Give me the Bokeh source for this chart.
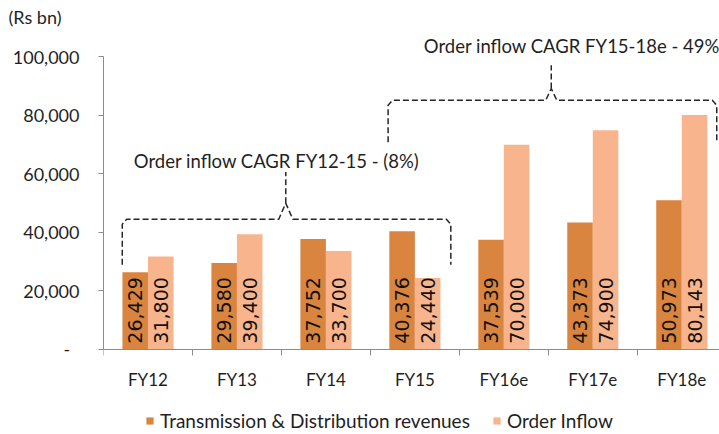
import numpy as np
from bokeh.plotting import figure
from bokeh.models import (Range1d, FixedTicker, CustomJSTickFormatter,
                          Legend, LegendItem, ColumnDataSource)
from bokeh.core.properties import value
from bokeh.embed import file_html
from bokeh.resources import INLINE

# ---- data ----
categories = ["FY12", "FY13", "FY14", "FY15", "FY16e", "FY17e", "FY18e"]
td_revenues = [26429, 29580, 37752, 40376, 37539, 43373, 50973]
order_inflow = [31800, 39400, 33700, 24440, 70000, 74900, 80143]
y_ticks = [0, 20000, 40000, 60000, 80000, 100000]
series_names = ["Transmission & Distribution revenues", "Order Inflow"]
unit_label = "(Rs bn)"
cagr_texts = ["Order inflow CAGR FY12-15 - (8%)", "Order inflow CAGR FY15-18e - 49%"]

# ---- style ----
DARK = "#D98540"
LIGHT = "#F8B48C"
AXIS = "#8C8C8C"
TXT = "#1F1F1F"
BAR_W = 0.287
FONT = "Lato"

idx = np.arange(len(categories))
src_td = ColumnDataSource(dict(x=idx + 0.5 - BAR_W / 2, top=td_revenues,
                               label=[f"{v:,}" for v in td_revenues]))
src_oi = ColumnDataSource(dict(x=idx + 0.5 + BAR_W / 2, top=order_inflow,
                               label=[f"{v:,}" for v in order_inflow]))

p = figure(width=719, height=434, x_range=Range1d(0, 6.924), y_range=Range1d(-29050, 109020),
           output_backend="svg", toolbar_location=None,
           min_border_left=103, min_border_right=0, min_border_top=30, min_border_bottom=0)
p.outline_line_color = None
p.xgrid.visible = False
p.ygrid.visible = False

p.title.text = unit_label
p.title.align = "left"
p.title.offset = -95
p.title.standoff = 5
p.title.text_font = FONT
p.title.text_font_size = "18px"
p.title.text_font_style = "normal"
p.title.text_color = TXT

r_td = p.vbar(x="x", top="top", width=BAR_W, source=src_td, fill_color=DARK, line_color=None)
r_oi = p.vbar(x="x", top="top", width=BAR_W, source=src_oi, fill_color=LIGHT, line_color=None)

for src in (src_td, src_oi):
    p.text(x="x", y=2000, text="label", source=src, angle=np.pi / 2,
           text_align="left", text_baseline="middle",
           text_font=value("DejaVu Sans"), text_font_size="19px", text_color="#111111")

# ---- brackets (annotation geometry in data units) ----
def bracket(x0, x1, xp, dxp, y_bar, y_leg, y_peak, y_stem, cx=0.05, cy=1700):
    xs = [x0, x0, x0 + cx, xp - dxp, xp, xp + dxp, x1 - cx, x1, x1]
    ys = [y_leg, y_bar - cy, y_bar, y_bar, y_peak, y_bar, y_bar, y_bar - cy, y_leg]
    p.line(xs, ys, line_dash="6 3", line_width=1.5, line_color="#262626")
    p.line([xp, xp], [y_peak, y_stem], line_dash="6 3", line_width=1.5, line_color="#262626")

bracket(0.211, 3.904, 2.049, 0.079, 44530, 29000, 50000, 60700)
bracket(3.199, 6.893, 5.033, 0.062, 85190, 70850, 89200, 97160)

p.text(x=[0.341], y=[64500], text=[cagr_texts[0]], text_align="left", text_baseline="alphabetic",
       text_font=value(FONT), text_font_size="18.5px", text_color=TXT)
p.text(x=[3.60], y=[103600], text=[cagr_texts[1]], text_align="left", text_baseline="alphabetic",
       text_font=value(FONT), text_font_size="18.5px", text_color=TXT)

# ---- axes ----
p.yaxis.ticker = FixedTicker(ticks=y_ticks)
p.yaxis.formatter = CustomJSTickFormatter(
    code="return tick == 0 ? '-\u00a0\u00a0' : tick.toLocaleString('en-US');")
p.yaxis.bounds = (0, 100000)
p.yaxis.axis_line_color = AXIS
p.yaxis.major_tick_line_color = AXIS
p.yaxis.major_tick_out = 5
p.yaxis.major_tick_in = 0
p.yaxis.minor_tick_line_color = None
p.yaxis.major_label_standoff = 19
p.yaxis.major_label_text_font = FONT
p.yaxis.major_label_text_font_size = "18px"
p.yaxis.major_label_text_color = TXT

p.xaxis.fixed_location = 0
p.xaxis.ticker = FixedTicker(ticks=list(idx + 0.5), minor_ticks=list(range(len(categories) + 1)))
p.xaxis.formatter = CustomJSTickFormatter(args=dict(cats=categories),
                                          code="return cats[Math.floor(tick)];")
p.xaxis.axis_line_color = AXIS
p.xaxis.major_tick_line_color = None
p.xaxis.major_tick_out = 0
p.xaxis.major_tick_in = 0
p.xaxis.minor_tick_line_color = AXIS
p.xaxis.minor_tick_out = 6
p.xaxis.minor_tick_in = 0
p.xaxis.major_label_standoff = 14
p.xaxis.major_label_text_font = FONT
p.xaxis.major_label_text_font_size = "17px"
p.xaxis.major_label_text_color = TXT

legend = Legend(items=[LegendItem(label=series_names[0], renderers=[r_td]),
                       LegendItem(label=series_names[1], renderers=[r_oi])],
                location=(42, 2), orientation="horizontal", spacing=22,
                label_standoff=6, glyph_width=9, glyph_height=9, padding=0, margin=0,
                label_text_font=FONT, label_text_font_size="19px", label_text_color=TXT,
                background_fill_alpha=0, border_line_color=None)
p.add_layout(legend)

open("out.html", "w").write(file_html(p, INLINE))
